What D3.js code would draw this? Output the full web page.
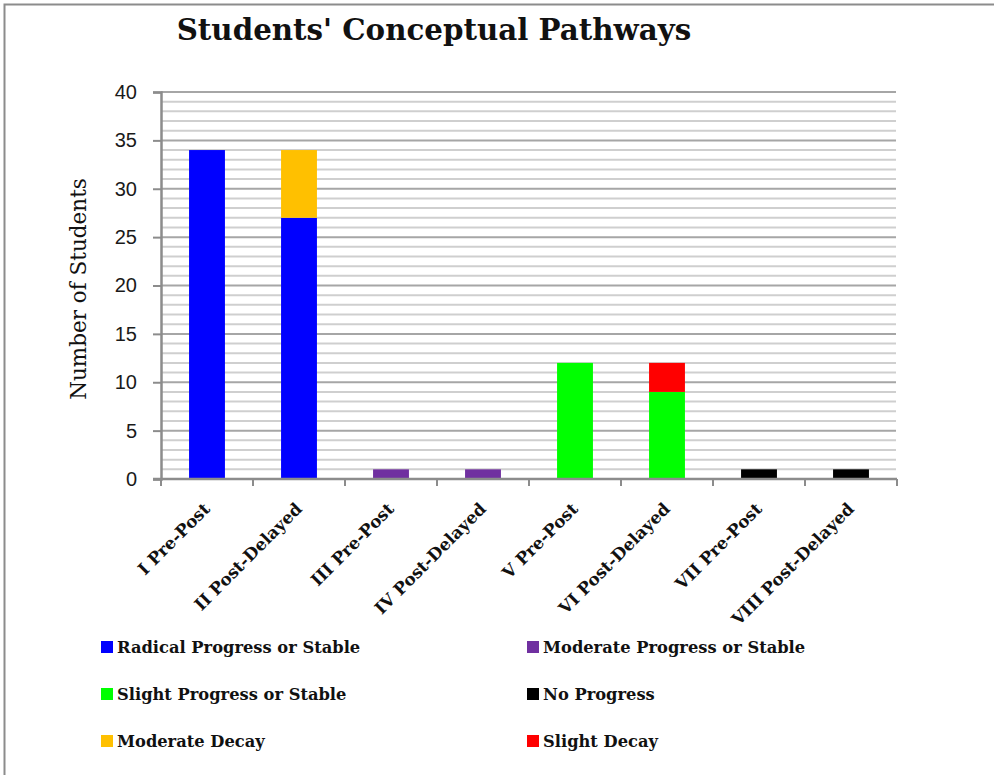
<!DOCTYPE html>
<html>
<head>
<meta charset="utf-8">
<script src="https://cdn.jsdelivr.net/npm/d3@7"></script>
<style>
  html, body { margin: 0; padding: 0; background: #fff; }
  svg { display: block; }
</style>
</head>
<body>
<svg id="chart" width="994" height="775"></svg>
<script>
// Pathway categories along the x axis
const categories = ["I Pre-Post", "II Post-Delayed", "III Pre-Post", "IV Post-Delayed",
                    "V Pre-Post", "VI Post-Delayed", "VII Pre-Post", "VIII Post-Delayed"];

// Series (stacked bottom to top), with number of students per category
const seriesNames = ["Radical Progress or Stable", "Moderate Progress or Stable",
                     "Slight Progress or Stable", "No Progress",
                     "Moderate Decay", "Slight Decay"];
const radicalProgress  = [34, 27, 0, 0, 0, 0, 0, 0];
const moderateProgress = [0, 0, 1, 1, 0, 0, 0, 0];
const slightProgress   = [0, 0, 0, 0, 12, 9, 0, 0];
const noProgress       = [0, 0, 0, 0, 0, 0, 1, 1];
const moderateDecay    = [0, 7, 0, 0, 0, 0, 0, 0];
const slightDecay      = [0, 0, 0, 0, 0, 3, 0, 0];
const seriesColors = ["#0000ff", "#7030a0", "#00ff00", "#000000", "#ffc000", "#ff0000"];

const yTicks = [0, 5, 10, 15, 20, 25, 30, 35, 40];

const seriesValues = [radicalProgress, moderateProgress, slightProgress,
                      noProgress, moderateDecay, slightDecay];
const rows = categories.map((c, i) => {
  const r = { category: c };
  seriesNames.forEach((s, k) => { r[s] = seriesValues[k][i]; });
  return r;
});

const svg = d3.select("#chart");
const serif = "'DejaVu Serif', 'Liberation Serif', serif";
const sans = "'Liberation Sans', Arial, sans-serif";

// Outer chart frame
svg.append("rect")
  .attr("x", 4.5).attr("y", 4.5)
  .attr("width", 1000).attr("height", 800)
  .attr("fill", "#fff").attr("stroke", "#8c8c8c").attr("stroke-width", 2);

const plot = { left: 161, right: 897, top: 92, bottom: 479 };

const x = d3.scaleBand().domain(categories)
  .range([plot.left, plot.right]).paddingInner(0.61).paddingOuter(0.305);
const xOuter = d3.scaleBand().domain(categories).range([plot.left, plot.right]);
const y = d3.scaleLinear().domain([0, 40]).range([plot.bottom, plot.top]);

// Minor gridlines every student, major every 5
const g = svg.append("g");
g.selectAll("line.minor")
  .data(d3.range(1, 41).filter(v => v % 5 !== 0))
  .join("line")
  .attr("x1", plot.left).attr("x2", plot.right - 1)
  .attr("y1", d => y(d)).attr("y2", d => y(d))
  .attr("stroke", "#cfcfcf").attr("stroke-width", 2);
g.selectAll("line.major")
  .data(yTicks.filter(v => v > 0))
  .join("line")
  .attr("x1", plot.left).attr("x2", plot.right - 1)
  .attr("y1", d => y(d)).attr("y2", d => y(d))
  .attr("stroke", "#a6a6a6").attr("stroke-width", 2);

// Stacked bars
const stack = d3.stack().keys(seriesNames)(rows);
svg.append("g").selectAll("g")
  .data(stack)
  .join("g")
  .attr("fill", (d, i) => seriesColors[i])
  .selectAll("rect")
  .data(d => d.filter(p => p[1] - p[0] > 0))
  .join("rect")
  .attr("x", d => x(d.data.category))
  .attr("width", x.bandwidth())
  .attr("y", d => y(d[1]))
  .attr("height", d => y(d[0]) - y(d[1]));

// Y axis
const yAxis = svg.append("g")
  .attr("transform", `translate(${plot.left},0)`)
  .call(d3.axisLeft(y).tickValues(yTicks).tickSize(8).tickPadding(16));
yAxis.select(".domain").attr("stroke", "#8c8c8c").attr("stroke-width", 2.5);
yAxis.selectAll(".tick line").attr("stroke", "#8c8c8c").attr("stroke-width", 2);
yAxis.selectAll(".tick text")
  .attr("font-family", sans).attr("font-size", 20).attr("fill", "#1a1a1a");

// X axis with ticks at category boundaries
const xAxis = svg.append("g")
  .attr("transform", `translate(0,${plot.bottom})`);
xAxis.append("line")
  .attr("x1", plot.left - 8).attr("x2", plot.right)
  .attr("stroke", "#8c8c8c").attr("stroke-width", 2.5);
xAxis.selectAll("line.tick")
  .data(categories.map(c => xOuter(c)).concat([plot.right]))
  .join("line")
  .attr("x1", d => d).attr("x2", d => d)
  .attr("y1", 0).attr("y2", 7)
  .attr("stroke", "#8c8c8c").attr("stroke-width", 2);
xAxis.selectAll("text")
  .data(categories)
  .join("text")
  .attr("transform", d => `translate(${xOuter(d) + xOuter.bandwidth() / 2 + 4},${31}) rotate(-45)`)
  .attr("text-anchor", "end")
  .attr("font-family", serif).attr("font-weight", "bold").attr("font-size", 16.8)
  .attr("fill", "#111")
  .text(d => d);

// Title
svg.append("text")
  .attr("x", 434).attr("y", 40)
  .attr("text-anchor", "middle")
  .attr("font-family", serif).attr("font-weight", "bold").attr("font-size", 29.3)
  .attr("fill", "#111")
  .text("Students' Conceptual Pathways");

// Y axis title
svg.append("text")
  .attr("transform", "translate(86,289) rotate(-90)")
  .attr("text-anchor", "middle")
  .attr("font-family", serif).attr("font-size", 21.5)
  .attr("fill", "#111")
  .text("Number of Students");

// Legend: two columns, three rows
const legendCols = [101, 527];
const legendRows = [647, 694, 741];
const legend = svg.append("g").selectAll("g")
  .data(seriesNames)
  .join("g")
  .attr("transform", (d, i) => `translate(${legendCols[i % 2]},${legendRows[Math.floor(i / 2)]})`);
legend.append("rect")
  .attr("x", 0).attr("y", -6).attr("width", 12).attr("height", 12)
  .attr("fill", (d, i) => seriesColors[i]);
legend.append("text")
  .attr("x", 16).attr("y", 6)
  .attr("font-family", serif).attr("font-weight", "bold").attr("font-size", 16.3)
  .attr("fill", "#111")
  .text(d => d);
</script>
</body>
</html>
